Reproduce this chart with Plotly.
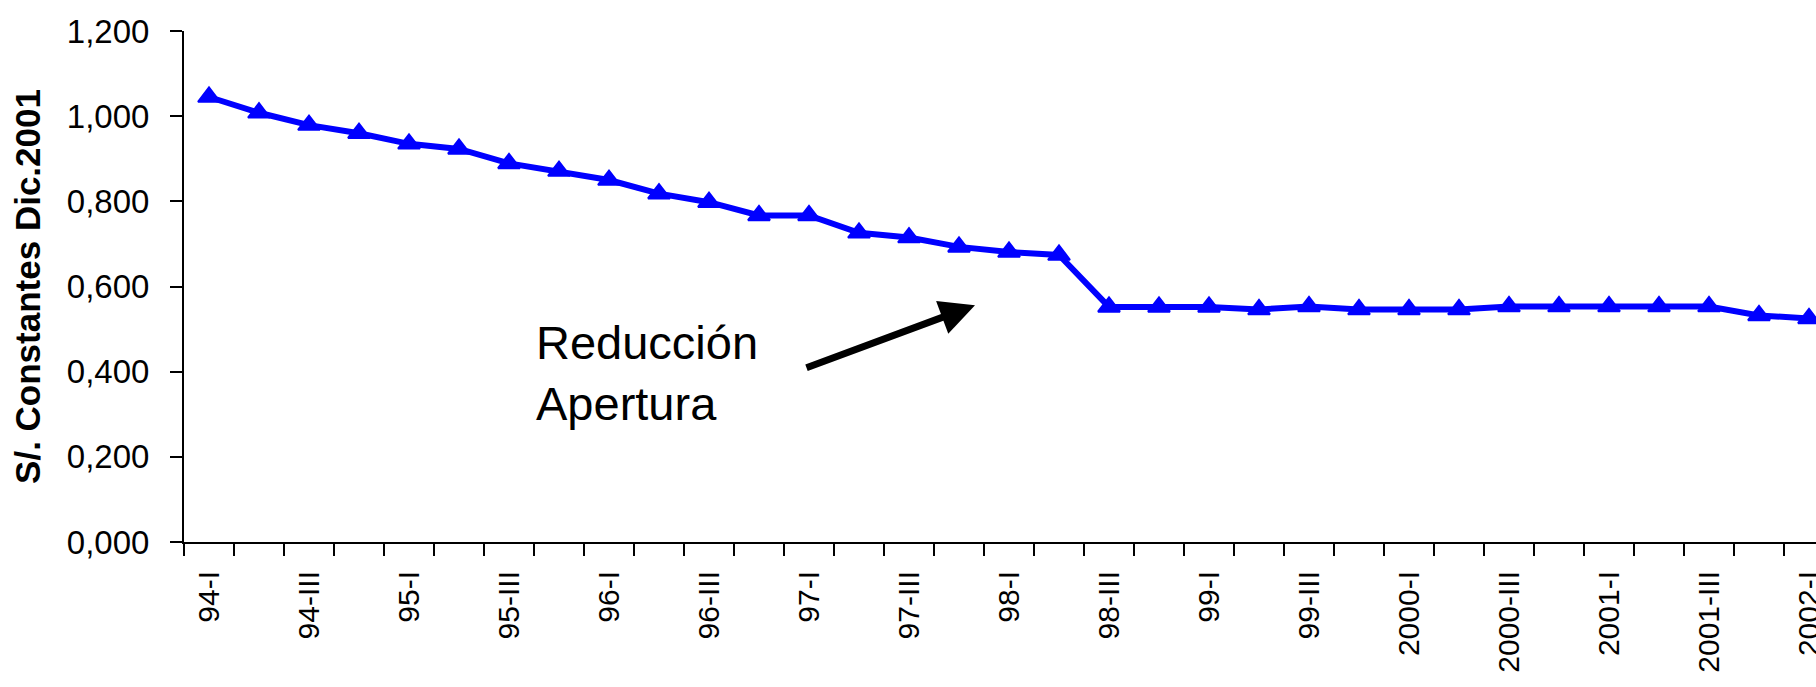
import plotly.graph_objects as go

# ---- data ----
categories = [
    "94-I", "94-II", "94-III", "94-IV",
    "95-I", "95-II", "95-III", "95-IV",
    "96-I", "96-II", "96-III", "96-IV",
    "97-I", "97-II", "97-III", "97-IV",
    "98-I", "98-II", "98-III", "98-IV",
    "99-I", "99-II", "99-III", "99-IV",
    "2000-I", "2000-II", "2000-III", "2000-IV",
    "2001-I", "2001-II", "2001-III", "2001-IV",
    "2002-I",
]
values = [
    1.045, 1.008, 0.979, 0.960,
    0.935, 0.923, 0.889, 0.871,
    0.850, 0.818, 0.798, 0.767,
    0.767, 0.726, 0.715, 0.693,
    0.681, 0.674, 0.552, 0.552,
    0.552, 0.546, 0.553, 0.546,
    0.546, 0.546, 0.553, 0.553,
    0.553, 0.553, 0.553, 0.532,
    0.525,
]
y_tick_values = [0, 0.2, 0.4, 0.6, 0.8, 1.0, 1.2]
y_tick_labels = ["0,000", "0,200", "0,400", "0,600", "0,800", "1,000", "1,200"]
y_title = "S/. Constantes Dic.2001"
note_text = "Reducción<br>Apertura"

x_idx = list(range(len(categories)))
x_tickvals = x_idx[::2]
x_ticktext = categories[::2]
boundaries = [i - 0.5 for i in range(len(categories) + 1)]

FONT = "Liberation Sans, Arial, sans-serif"

fig = go.Figure()
fig.add_trace(go.Scatter(
    x=x_idx, y=values, mode="lines+markers",
    line=dict(color="#0000FF", width=6),
    marker=dict(symbol="triangle-up", size=19, color="#0000FF",
                line=dict(color="#0000FF", width=2)),
    showlegend=False, hoverinfo="skip",
))

W, H = 1816, 687
L, R, T, B = 184, 0, 31, 145
px_per_cat = 50
x_right = -0.5 + (W - L - R) / px_per_cat

fig.update_layout(
    width=W, height=H,
    margin=dict(l=L, r=R, t=T, b=B, autoexpand=False),
    paper_bgcolor="white", plot_bgcolor="white",
    font=dict(family=FONT, color="black"),
    showlegend=False,
)
fig.update_xaxes(
    range=[-0.5, x_right],
    tickmode="array", tickvals=x_tickvals, ticktext=x_ticktext,
    tickangle=-90, ticklabeloverflow="allow",
    tickfont=dict(size=30, family=FONT, color="black"),
    ticks="outside", ticklen=12, tickcolor="rgba(0,0,0,0)", tickwidth=2,
    ticklabelstandoff=3,
    minor=dict(tickmode="array", tickvals=boundaries, ticks="outside",
               ticklen=12, tickwidth=2, tickcolor="black", showgrid=False),
    showline=True, linecolor="black", linewidth=2,
    showgrid=False, zeroline=False, automargin=False,
)
fig.update_yaxes(
    range=[0, 1.2],
    tickmode="array", tickvals=y_tick_values, ticktext=y_tick_labels,
    tickfont=dict(size=33, family=FONT, color="black"),
    ticks="outside", ticklen=12, tickwidth=2, tickcolor="black",
    ticklabelstandoff=14,
    showline=True, linecolor="black", linewidth=2,
    showgrid=False, zeroline=False, automargin=False,
    title=dict(text="<b>" + y_title + "</b>",
               font=dict(size=35, family=FONT, color="black"), standoff=16),
)

# text annotation
fig.add_annotation(
    x=6.5, y=(542 - 314) / 426.3, xref="x", yref="y",
    text=note_text, showarrow=False, xanchor="left", yanchor="top",
    align="left", font=dict(size=47, family=FONT, color="black"),
)
# arrow
fig.add_annotation(
    x=15.32, y=0.556, ax=11.92, ay=0.408,
    xref="x", yref="y", axref="x", ayref="y",
    text="", showarrow=True, arrowhead=2, arrowsize=1, arrowwidth=7,
    arrowcolor="black", standoff=0, startstandoff=0,
)

fig.write_html(
    "out.html",
    config={"displayModeBar": False},
    post_script="document.body.style.margin='0';document.body.style.overflow='hidden';",
)
